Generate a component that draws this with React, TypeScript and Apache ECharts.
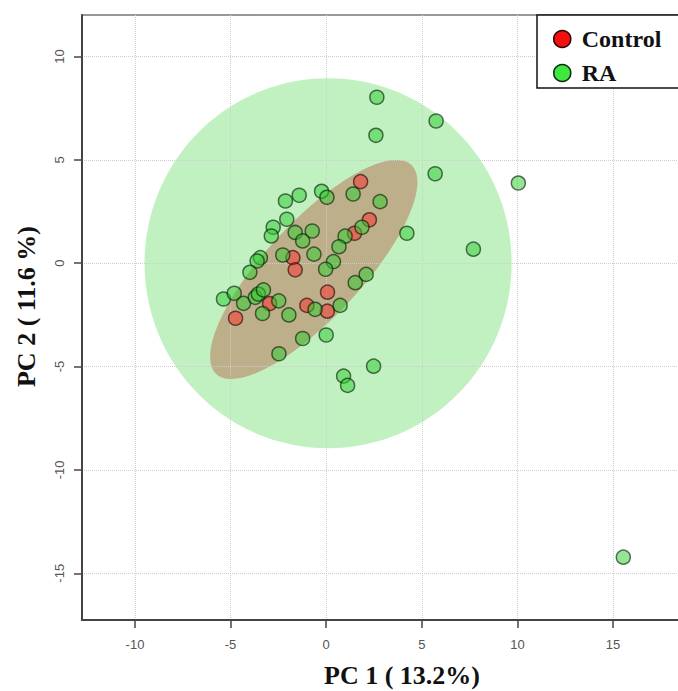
import React, { useEffect, useRef } from "react";
import * as echarts from "echarts";

// ---- data ----
const controlPC1 = [1.8, 2.26, 1.48, -1.74, -1.62, 0.07, -2.96, -4.74, -1.01, 0.06];
const controlPC2 = [3.95, 2.1, 1.45, 0.27, -0.32, -1.4, -1.95, -2.66, -2.04, -2.32];

const raPC1 = [
  2.65, 5.75, 2.6, 5.7, 10.05, 7.7, 4.22, 1.41, 2.82, -0.24, 0.04, -1.41, -2.13, -2.06,
  -2.77, -2.87, -1.62, -0.73, -1.23, 1.87, 0.99, 0.67, 0.38, -0.03, -0.64, -2.27, -3.44,
  -3.61, -3.99, 2.09, 1.52, -5.37, -4.81, -4.32, -3.71, -3.55, -3.28, -2.48, -3.33, -1.95,
  -0.58, 0.73, -1.23, 0.0, -2.47, 2.48, 0.91, 1.12, 15.54,
];
const raPC2 = [
  8.03, 6.88, 6.19, 4.33, 3.88, 0.68, 1.45, 3.35, 2.98, 3.48, 3.19, 3.29, 3.01, 2.13,
  1.74, 1.32, 1.49, 1.56, 1.08, 1.74, 1.31, 0.8, 0.08, -0.29, 0.44, 0.4, 0.27,
  0.11, -0.44, -0.54, -0.94, -1.73, -1.45, -1.94, -1.65, -1.49, -1.29, -1.82, -2.43, -2.5,
  -2.23, -2.04, -3.64, -3.47, -4.38, -4.98, -5.46, -5.91, -14.22,
];

// confidence regions: centre, conjugate semi-axis vectors (data units)
const regionNames = ["RA", "Control"];
const regionCenters = [[0.1, 0.0], [-0.65, -0.3]];
const regionAxisU = [[9.6, 0.0], [5.1, 5.06]];
const regionAxisV = [[0.0, 8.95], [-1.835, 1.58]];

const xTicks = [-10, -5, 0, 5, 10, 15];
const yTicks = [-15, -10, -5, 0, 5, 10];
const xRange = [-12.77, 18.4];
const yRange = [-17.26, 12.01];

const xTitle = "PC 1 ( 13.2%)";
const yTitle = "PC 2 ( 11.6 %)";

// ---- styles ----
const regionFills = ["#c1f1c1", "#bdaf89"];
const serif = "'Liberation Serif', 'Times New Roman', serif";
const sans = "'Liberation Sans', Arial, sans-serif";

export default function App() {
  const ref = useRef<HTMLDivElement>(null);

  useEffect(() => {
    if (!ref.current) return;
    const chart = echarts.init(ref.current, undefined, { renderer: "svg" });

    const controlData = controlPC1.map((x, i) => [x, controlPC2[i]]);
    const raData = raPC1.map((x, i) => [x, raPC2[i]]);

    const axisLabelStyle = { fontSize: 13, color: "#555", fontFamily: sans };
    const nameStyle = {
      fontFamily: serif,
      fontWeight: "bold" as const,
      fontSize: 26,
      color: "#111",
    };

    chart.setOption({
      animation: false,
      backgroundColor: "#ffffff",
      grid: {
        left: 82,
        top: 15,
        right: 0,
        bottom: 71,
        containLabel: false,
        outerBoundsMode: "none",
      },
      legend: {
        orient: "vertical",
        left: 537,
        top: 15,
        z: 10,
        data: [
          {
            name: "Control",
            icon: "circle",
            itemStyle: { color: "#f41010", borderColor: "#2a0000", borderWidth: 1.5, opacity: 1 },
          },
          {
            name: "RA",
            icon: "circle",
            itemStyle: { color: "#3ee83e", borderColor: "#0a2a0a", borderWidth: 1.5, opacity: 1 },
          },
        ],
        itemWidth: 17,
        itemHeight: 20,
        itemGap: 10,
        padding: [12, 60, 3, 16],
        borderColor: "#111",
        borderWidth: 1.5,
        backgroundColor: "#ffffff",
        textStyle: {
          fontFamily: serif,
          fontWeight: "bold",
          fontSize: 24,
          color: "#111",
          padding: [0, 0, 0, 6],
        },
      },
      xAxis: [
        {
          type: "value",
          position: "bottom",
          min: xRange[0],
          max: xRange[1],
          z: 2,
          axisLine: { show: true, onZero: false, lineStyle: { color: "#444", width: 2 } },
          axisTick: {
            show: true,
            length: 8,
            customValues: xTicks,
            lineStyle: { color: "#444", width: 1.5 },
          },
          axisLabel: { customValues: xTicks, margin: 18, ...axisLabelStyle },
          splitLine: { show: true, lineStyle: { type: "dotted", color: "#cdcdcd", width: 1 } },
          name: xTitle,
          nameLocation: "middle",
          nameGap: 42,
          nameTextStyle: { ...nameStyle, fontSize: 26, padding: [0, 0, 0, 44] },
        },
        {
          type: "value",
          position: "top",
          min: xRange[0],
          max: xRange[1],
          axisLine: { show: true, onZero: false, lineStyle: { color: "#777", width: 1.5 } },
          axisTick: { show: false },
          axisLabel: { show: false },
          splitLine: { show: false },
        },
      ],
      yAxis: {
        type: "value",
        min: yRange[0],
        max: yRange[1],
        z: 2,
        axisLine: { show: true, onZero: false, lineStyle: { color: "#444", width: 2 } },
        axisTick: {
          show: true,
          length: 8,
          customValues: yTicks,
          lineStyle: { color: "#444", width: 1.5 },
        },
        axisLabel: { customValues: yTicks, margin: 16, rotate: 90, ...axisLabelStyle },
        splitLine: { show: true, lineStyle: { type: "dotted", color: "#cdcdcd", width: 1 } },
        name: yTitle,
        nameLocation: "middle",
        nameGap: 43,
        nameTextStyle: { ...nameStyle, fontSize: 26, padding: [0, 0, 0, 22] },
      },
      series: [
        {
          type: "custom",
          name: "regions",
          z: 1,
          silent: true,
          xAxisIndex: 0,
          yAxisIndex: 0,
          data: regionCenters.map((c, i) => ({ name: regionNames[i], value: c })),
          encode: { x: 0, y: 1 },
          renderItem: (params: any, api: any) => {
            const i = params.dataIndex;
            const c = regionCenters[i];
            const u = regionAxisU[i];
            const v = regionAxisV[i];
            const pts: number[][] = [];
            const n = 160;
            for (let k = 0; k < n; k++) {
              const t = (2 * Math.PI * k) / n;
              const x = c[0] + u[0] * Math.cos(t) + v[0] * Math.sin(t);
              const y = c[1] + u[1] * Math.cos(t) + v[1] * Math.sin(t);
              pts.push(api.coord([x, y]));
            }
            return {
              type: "polygon",
              shape: { points: pts },
              style: { fill: regionFills[i], stroke: "none" },
            };
          },
        },
        {
          type: "scatter",
          name: "Control",
          z: 3,
          symbol: "circle",
          symbolSize: 14,
          data: controlData,
          itemStyle: {
            color: "rgba(255,40,40,0.62)",
            borderColor: "rgba(20,0,0,0.75)",
            borderWidth: 1.5,
          },
        },
        {
          type: "scatter",
          name: "RA",
          z: 3,
          symbol: "circle",
          symbolSize: 14,
          data: raData,
          itemStyle: {
            color: "rgba(50,205,50,0.65)",
            borderColor: "rgba(0,20,0,0.75)",
            borderWidth: 1.5,
          },
        },
      ],
    });

    return () => chart.dispose();
  }, []);

  return (
    <div
      ref={ref}
      style={{ position: "fixed", left: 0, top: 0, width: 678, height: 691, background: "#fff" }}
    />
  );
}
